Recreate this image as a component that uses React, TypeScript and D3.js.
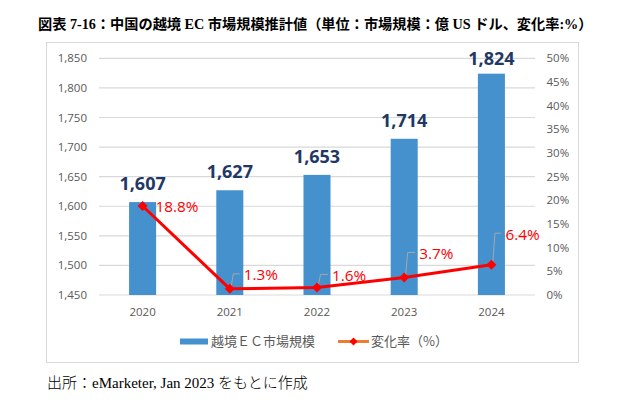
import React from 'react';
import * as d3 from 'd3';

const years = ['2020', '2021', '2022', '2023', '2024'];
const marketSize = [1607, 1627, 1653, 1714, 1824];
const changeRate = [18.8, 1.3, 1.6, 3.7, 6.4];
const leftTicks = [1450, 1500, 1550, 1600, 1650, 1700, 1750, 1800, 1850];
const rightTicks = [0, 5, 10, 15, 20, 25, 30, 35, 40, 45, 50];

const title = '図表 7-16：中国の越境 EC 市場規模推計値（単位：市場規模：億 US ドル、変化率:%）';
const seriesBarName = '越境ＥＣ市場規模';
const seriesLineName = '変化率（%）';

// label placement (style): offset of % label from its marker, leader flag
const rateLabelLayout = [
  { dx: 13, dy: 6, leader: false },
  { dx: 14, dy: -8.5, leader: true },
  { dx: 15, dy: -6.5, leader: true },
  { dx: 15, dy: -18.5, leader: true },
  { dx: 14, dy: -25, leader: true },
];

const W = 625;
const H = 403;
const plot = { left: 99, right: 535, top: 58.3, bottom: 295 };

const sans = "'Open Sans', 'Noto Sans CJK JP', sans-serif";
const cjk = "'Noto Sans CJK JP', sans-serif";
const serif = "'Liberation Serif', 'Noto Sans CJK JP', serif";

export default function App() {
  const x = d3.scaleBand<string>().domain(years).range([plot.left, plot.right]);
  const yL = d3.scaleLinear().domain([1450, 1850]).range([plot.bottom, plot.top]);
  const yR = d3.scaleLinear().domain([0, 50]).range([plot.bottom, plot.top]);
  const barW = x.bandwidth() * 0.31;
  const cx = (y: string) => (x(y) as number) + x.bandwidth() / 2;

  const linePts: [number, number][] = years.map((y, i) => [cx(y), yR(changeRate[i])]);
  const line = d3.line()(linePts) as string;
  const diamond = d3.symbol().type(d3.symbolSquare).size(50)() as string;
  const diamondSmall = d3.symbol().type(d3.symbolSquare).size(32)() as string;

  return (
    <svg width={W} height={H} style={{ position: 'absolute', left: 0, top: 0, background: '#fff' }}>
      <rect x={0} y={0} width={W} height={H} fill="#fff" />
      <text x={38} y={28.5} fontFamily={serif} fontWeight="bold" fontSize={14.2} fill="#000">
        {title}
      </text>
      <rect x={46.5} y={42.5} width={532} height={320} fill="#fff" stroke="#d9d9d9" strokeWidth={1} />

      {leftTicks.map((t) => (
        <g key={'l' + t}>
          <line x1={plot.left} x2={plot.right} y1={yL(t)} y2={yL(t)} stroke="#d9d9d9" strokeWidth={1.2} />
          <text x={87} y={yL(t)} dy="0.35em" textAnchor="end" fontFamily={sans} fontSize={11.5} fill="#595959">
            {d3.format(',')(t)}
          </text>
        </g>
      ))}
      {rightTicks.map((t) => (
        <text key={'r' + t} x={546.5} y={yR(t)} dy="0.35em" fontFamily={sans} fontSize={11.5} fill="#595959">
          {t + '%'}
        </text>
      ))}

      {years.map((y, i) => (
        <g key={'b' + y}>
          <rect x={cx(y) - barW / 2} y={yL(marketSize[i])} width={barW} height={plot.bottom - yL(marketSize[i])} fill="#4591CE" />
          <text
            x={cx(y)}
            y={Math.max(yL(marketSize[i]) - 12, plot.top + 7)}
            textAnchor="middle"
            fontFamily={sans}
            fontWeight="bold"
            fontSize={18}
            fill="#1F3864"
          >
            {d3.format(',')(marketSize[i])}
          </text>
          <text x={cx(y)} y={316} textAnchor="middle" fontFamily={sans} fontSize={11.5} fill="#595959">
            {y}
          </text>
        </g>
      ))}

      {years.map((y, i) => {
        const [px, py] = linePts[i];
        const L = rateLabelLayout[i];
        const lx = px + L.dx;
        const by = py + L.dy;
        const top = by - 6.5;
        return L.leader ? (
          <polyline
            key={'ld' + y}
            points={`${px + 1.5},${py - 3} ${px + 3.5},${top} ${lx - 4},${top}`}
            fill="none"
            stroke="#a6a6a6"
            strokeWidth={1}
          />
        ) : null;
      })}

      <path d={line} fill="none" stroke="#FF0000" strokeWidth={3} strokeLinejoin="round" />
      {linePts.map(([px, py], i) => (
        <path key={'m' + i} d={diamond} transform={`translate(${px},${py}) rotate(45)`} fill="#FF0000" />
      ))}
      {years.map((y, i) => {
        const [px, py] = linePts[i];
        const L = rateLabelLayout[i];
        return (
          <text key={'pl' + y} x={px + L.dx} y={py + L.dy} fontFamily={sans} fontSize={15.3} fill="#FF0000">
            {changeRate[i].toFixed(1) + '%'}
          </text>
        );
      })}

      <g>
        <rect x={180} y={338.5} width={28} height={6} fill="#4591CE" />
        <text x={211} y={341.5} dy="0.36em" fontFamily={cjk} fontSize={13} fill="#595959">
          {seriesBarName}
        </text>
        <line x1={338} x2={369} y1={341.5} y2={341.5} stroke="#ED7D31" strokeWidth={3} />
        <path d={diamondSmall} transform="translate(353.5,341.5) rotate(45)" fill="#FF0000" />
        <text x={371} y={341.5} dy="0.36em" fontFamily={cjk} fontSize={13} fill="#595959">
          {seriesLineName}
        </text>
      </g>

      <text x={47} y={387.5} fontSize={15} fill="#000">
        <tspan fontFamily={cjk} fontWeight={300}>出所：</tspan>
        <tspan fontFamily={serif}>eMarketer, Jan 2023 </tspan>
        <tspan fontFamily={cjk} fontWeight={300}>をもとに作成</tspan>
      </text>
    </svg>
  );
}
